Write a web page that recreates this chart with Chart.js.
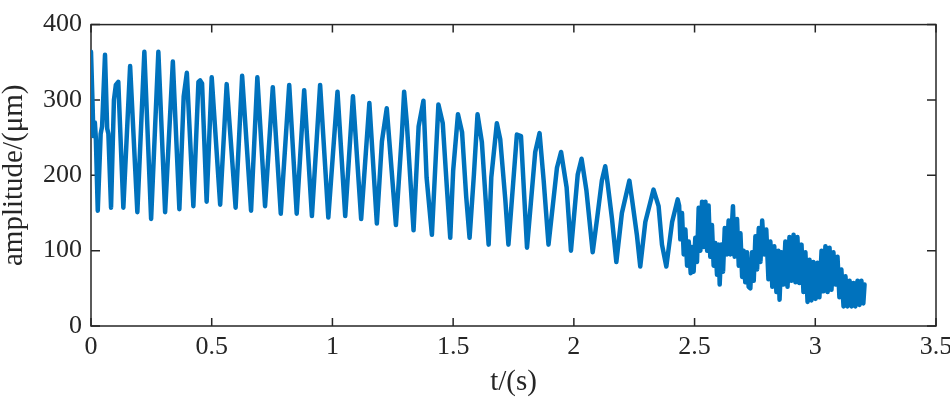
<!DOCTYPE html>
<html>
<head>
<meta charset="utf-8">
<script src="https://cdn.jsdelivr.net/npm/chart.js@4.4.1/dist/chart.umd.min.js"></script>
<style>
  html, body { margin: 0; padding: 0; background: #fff; }
  #wrap { width: 950px; height: 398px; }
</style>
</head>
<body>
<div id="wrap"><canvas id="amp-chart" width="950" height="398"></canvas></div>
<script>
// 振幅衰減曲線：數值由原圖逐點讀出（峰、谷與可見的小轉折）
const timeS = [
  0.000, 0.006, 0.010, 0.016, 0.020, 0.028, 0.040, 0.046, 0.058, 0.067,
  0.072, 0.083, 0.095, 0.103, 0.113, 0.134, 0.162, 0.192, 0.221, 0.249,
  0.279, 0.307, 0.339, 0.366, 0.384, 0.397, 0.424, 0.445, 0.452, 0.460,
  0.479, 0.500, 0.535, 0.562, 0.599, 0.626, 0.663, 0.689, 0.721, 0.753,
  0.786, 0.821, 0.852, 0.883, 0.915, 0.949, 0.983, 1.021, 1.053, 1.085,
  1.119, 1.153, 1.184, 1.205, 1.225, 1.263, 1.288, 1.297, 1.308, 1.336,
  1.357, 1.377, 1.390, 1.412, 1.439, 1.457, 1.474, 1.488, 1.500, 1.520,
  1.537, 1.554, 1.568, 1.586, 1.601, 1.619, 1.647, 1.658, 1.681, 1.695,
  1.716, 1.729, 1.764, 1.781, 1.806, 1.840, 1.858, 1.875, 1.895, 1.930,
  1.947, 1.970, 1.988, 2.016, 2.032, 2.052, 2.078, 2.096, 2.116, 2.130,
  2.140, 2.158, 2.176, 2.199, 2.230, 2.241, 2.261, 2.275, 2.296, 2.330,
  2.351, 2.365, 2.383, 2.407, 2.430, 2.436, 2.441, 2.448, 2.455, 2.462,
  2.469, 2.476, 2.484, 2.489, 2.496, 2.503, 2.510, 2.517, 2.524, 2.531,
  2.538, 2.545, 2.552, 2.558, 2.565, 2.572, 2.579, 2.586, 2.593, 2.600,
  2.604, 2.611, 2.618, 2.625, 2.634, 2.641, 2.648, 2.659, 2.666, 2.676,
  2.683, 2.690, 2.697, 2.703, 2.710, 2.717, 2.724, 2.731, 2.738, 2.745,
  2.752, 2.759, 2.766, 2.773, 2.780, 2.789, 2.797, 2.806, 2.814, 2.822,
  2.830, 2.839, 2.847, 2.852, 2.860, 2.868, 2.876, 2.885, 2.893, 2.901,
  2.910, 2.918, 2.926, 2.934, 2.943, 2.951, 2.959, 2.968, 2.976, 2.984,
  2.992, 3.001, 3.009, 3.017, 3.026, 3.034, 3.042, 3.051, 3.059, 3.067,
  3.075, 3.084, 3.092, 3.100, 3.108, 3.117, 3.125, 3.133, 3.142, 3.150,
  3.158, 3.166, 3.175, 3.183, 3.191, 3.199, 3.204
];
const amplitudeUm = [
  364, 300, 252, 270, 250, 153, 255, 265, 360, 262,
  255, 157, 300, 320, 324, 157, 345, 151, 364, 142,
  364, 151, 351, 155, 305, 336, 159, 324, 326, 322,
  165, 330, 161, 321, 157, 332, 153, 330, 159, 317,
  149, 320, 149, 313, 146, 320, 144, 311, 146, 305,
  142, 296, 136, 245, 289, 134, 256, 311, 270, 127,
  265, 299, 197, 121, 294, 269, 184, 117, 206, 281,
  257, 172, 117, 201, 281, 244, 108, 197, 269, 248,
  168, 108, 254, 252, 104, 231, 256, 193, 108, 210,
  231, 184, 100, 201, 222, 180, 98, 142, 193, 212,
  189, 142, 85, 150, 193, 168, 121, 79, 138, 181,
  159, 108, 79, 138, 168, 160, 115, 150, 95, 128,
  80, 112, 70, 105, 72, 117, 85, 157, 100, 165,
  105, 165, 100, 160, 92, 134, 80, 110, 68, 108,
  55, 108, 72, 130, 95, 140, 95, 159, 92, 142,
  80, 123, 65, 100, 58, 98, 52, 50, 98, 60,
  119, 75, 130, 85, 140, 95, 128, 62, 112, 52,
  106, 45, 100, 35, 98, 55, 112, 52, 118, 60,
  121, 58, 118, 57, 108, 45, 98, 32, 88, 34,
  85, 36, 84, 38, 100, 46, 106, 45, 104, 48,
  98, 55, 92, 38, 75, 26, 66, 26, 60, 26,
  57, 26, 60, 28, 60, 30, 55
];
const xTicks = [0, 0.5, 1, 1.5, 2, 2.5, 3, 3.5];
const xTickLabels = ["0", "0.5", "1", "1.5", "2", "2.5", "3", "3.5"];
const yTicks = [0, 100, 200, 300, 400];
const yTickLabels = ["0", "100", "200", "300", "400"];

const LINE_BLUE = "#0072BD";
const AXIS = "#262626";
const SERIF = "'Liberation Serif', 'Times New Roman', serif";

// MATLAB 風格：外框 + 朝內的刻度（四邊都有）
const boxAxes = {
  id: "boxAxes",
  beforeDatasetsDraw(chart) {
    const { ctx, chartArea: a, scales } = chart;
    ctx.save();
    ctx.strokeStyle = AXIS;
    ctx.lineWidth = 1.5;
    ctx.strokeRect(a.left, a.top, a.right - a.left, a.bottom - a.top);
    ctx.beginPath();
    xTicks.forEach((v) => {
      const px = scales.x.getPixelForValue(v);
      ctx.moveTo(px, a.bottom); ctx.lineTo(px, a.bottom - 8);
      ctx.moveTo(px, a.top); ctx.lineTo(px, a.top + 8);
    });
    yTicks.forEach((v) => {
      const py = scales.y.getPixelForValue(v);
      ctx.moveTo(a.left, py); ctx.lineTo(a.left + 9, py);
      ctx.moveTo(a.right, py); ctx.lineTo(a.right - 9, py);
    });
    ctx.stroke();
    ctx.restore();
  },
};

const points = timeS.map((t, i) => ({ x: t, y: amplitudeUm[i] }));

new Chart(document.getElementById("amp-chart").getContext("2d"), {
  type: "line",
  data: {
    datasets: [{
      data: points,
      borderColor: LINE_BLUE,
      borderWidth: 4.5,
      borderJoinStyle: "round",
      borderCapStyle: "round",
      pointRadius: 0,
      tension: 0,
      fill: false,
    }],
  },
  options: {
    responsive: false,
    animation: false,
    events: [],
    layout: { padding: { top: 9, right: 14, left: 0, bottom: 0 } },
    plugins: { legend: { display: false }, tooltip: { enabled: false } },
    scales: {
      x: {
        type: "linear", min: 0, max: 3.5,
        afterBuildTicks: (s) => { s.ticks = xTicks.map((v) => ({ value: v })); },
        afterFit: (s) => { s.height = 72; s.paddingLeft = 0; s.paddingRight = 0; },
        ticks: {
          callback: (v, i) => xTickLabels[i],
          font: { family: SERIF, size: 26 }, color: AXIS,
          padding: 6, maxRotation: 0, autoSkip: false,
        },
        grid: { display: false, drawTicks: false },
        border: { display: false },
        title: {
          display: true, text: "t/(s)", color: AXIS,
          font: { family: SERIF, size: 29, lineHeight: 1 },
          padding: { top: 0, bottom: 1 },
        },
      },
      y: {
        type: "linear", min: 0, max: 400,
        afterBuildTicks: (s) => { s.ticks = yTicks.map((v) => ({ value: v })); },
        afterFit: (s) => { s.width = 91; },
        ticks: {
          callback: (v, i) => yTickLabels[i],
          font: { family: SERIF, size: 26 }, color: AXIS,
          padding: 9, autoSkip: false,
        },
        grid: { display: false, drawTicks: false },
        border: { display: false },
        title: {
          display: true, text: "amplitude/(μm)", color: AXIS,
          font: { family: SERIF, size: 29, lineHeight: 1 },
          padding: { top: 0, bottom: 0 },
        },
      },
    },
  },
  plugins: [boxAxes],
});
</script>
</body>
</html>
